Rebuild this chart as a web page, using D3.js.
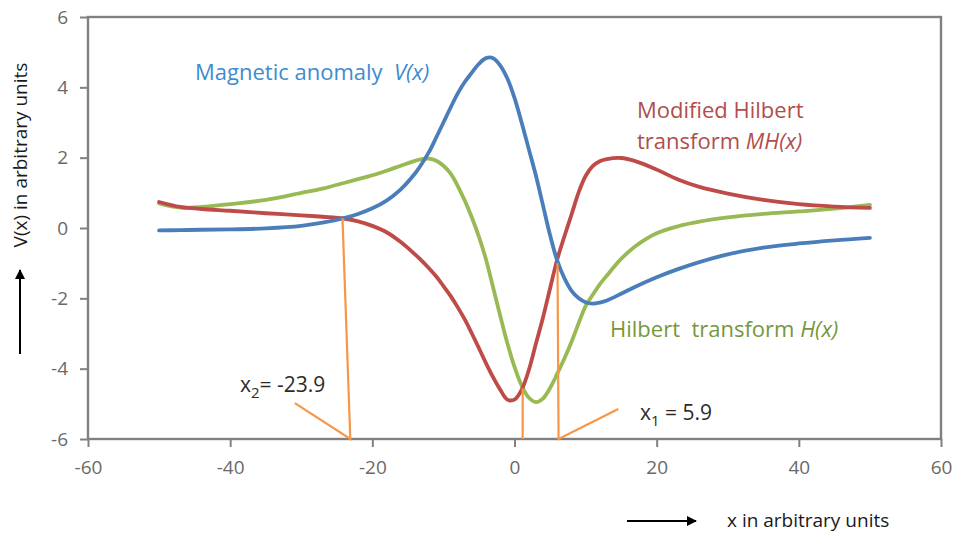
<!DOCTYPE html>
<html>
<head>
<meta charset="utf-8">
<script src="https://cdn.jsdelivr.net/npm/d3@7"></script>
<style>
body { margin: 0; background: #fff; }
text { font-family: "Open Sans", sans-serif; }
</style>
</head>
<body>
<script>
// sample positions (x in arbitrary units)
var xValues = [-50, -47, -44, -40, -35, -30, -27, -24, -22, -20, -18, -16, -14, -13, -12, -11, -10, -9, -8, -7, -6, -5, -4, -3, -2, -1, 0,
    1, 2, 3, 4, 5, 6, 7, 8, 9, 10, 11, 12, 13, 15, 17, 20, 23, 26, 30, 35, 40, 45, 50];

// magnetic anomaly V(x)
var vValues = [-0.07, -0.06, -0.05, -0.04, -0.01, 0.06, 0.15, 0.28, 0.4, 0.56, 0.78, 1.1, 1.55, 1.84, 2.17, 2.58, 3.0, 3.42, 3.82, 4.15, 4.42, 4.67, 4.83, 4.83, 4.62, 4.25, 3.7,
    3.0, 2.25, 1.5, 0.65, -0.2, -0.92, -1.42, -1.78, -1.99, -2.11, -2.15, -2.12, -2.06, -1.87, -1.67, -1.4, -1.17, -0.97, -0.75, -0.56, -0.44, -0.35, -0.28];

// modified Hilbert transform MH(x)
var mhValues = [0.74, 0.6, 0.54, 0.49, 0.42, 0.36, 0.32, 0.27, 0.19, 0.06, -0.12, -0.4, -0.75, -0.94, -1.15, -1.38, -1.65, -1.93, -2.25, -2.6, -3.0, -3.42, -3.85, -4.25, -4.6, -4.88, -4.88,
    -4.6, -4.05, -3.3, -2.55, -1.72, -0.9, -0.25, 0.37, 1.0, 1.48, 1.76, 1.9, 1.96, 1.99, 1.9, 1.66, 1.38, 1.17, 0.98, 0.8, 0.68, 0.61, 0.57];

// Hilbert transform H(x)
var hValues = [0.7, 0.58, 0.6, 0.68, 0.8, 1.0, 1.12, 1.28, 1.39, 1.5, 1.63, 1.77, 1.91, 1.96, 1.97, 1.91, 1.77, 1.55, 1.2, 0.78, 0.3, -0.25, -0.9, -1.7, -2.5, -3.28, -3.95,
    -4.48, -4.82, -4.95, -4.85, -4.55, -4.15, -3.72, -3.25, -2.72, -2.22, -1.9, -1.6, -1.35, -0.88, -0.52, -0.15, 0.05, 0.18, 0.3, 0.4, 0.47, 0.55, 0.66];

var xTicks = [-60, -40, -20, 0, 20, 40, 60];
var yTicks = [-6, -4, -2, 0, 2, 4, 6];

// orange construction lines (data coordinates)
var x2Line = [[-24.2, 0.28], [-23.1, -6], [-30.9, -4.98]];
var midLine = [[1.15, -4.56], [1.15, -6]];
var x1Line = [[6.05, -1.0], [6.2, -6], [14.6, -5.15]];

var width = 956, height = 535;
var margin = {left: 88, top: 17, right: 15, bottom: 96};

var svg = d3.select("body").append("svg")
    .attr("width", width)
    .attr("height", height);

var x = d3.scaleLinear().domain([-60, 60]).range([margin.left, width - margin.right]);
var y = d3.scaleLinear().domain([-6, 6]).range([height - margin.bottom, margin.top]);

var axisColor = "#808080";

// plot frame
svg.append("rect")
    .attr("x", x(-60))
    .attr("y", y(6))
    .attr("width", x(60) - x(-60))
    .attr("height", y(-6) - y(6))
    .attr("fill", "none")
    .attr("stroke", axisColor)
    .attr("stroke-width", 2.4);

var xAxis = svg.append("g")
    .attr("transform", "translate(0," + y(-6) + ")")
    .call(d3.axisBottom(x).tickValues(xTicks).tickSize(8).tickPadding(14).tickFormat(function (d) { return String(d); }));

var yAxis = svg.append("g")
    .attr("transform", "translate(" + x(-60) + ",0)")
    .call(d3.axisLeft(y).tickValues(yTicks).tickSize(8).tickPadding(12).tickFormat(function (d) { return String(d); }));

[xAxis, yAxis].forEach(function (ax) {
    ax.select(".domain").remove();
    ax.selectAll(".tick line").attr("stroke", axisColor).attr("stroke-width", 2);
    ax.selectAll(".tick text")
        .attr("fill", "#6a6a6a")
        .style("font-size", "19px")
        .style("font-family", "'Open Sans', sans-serif");
});

// curves
var line = d3.line()
    .x(function (d) { return x(d[0]); })
    .y(function (d) { return y(d[1]); })
    .curve(d3.curveCatmullRom.alpha(0.5));

var series = [
    {values: hValues, color: "#98B954"},
    {values: mhValues, color: "#BE4B48"},
    {values: vValues, color: "#4A7EBB"}
];

series.forEach(function (s) {
    svg.append("path")
        .attr("d", line(xValues.map(function (xv, i) { return [xv, s.values[i]]; })))
        .attr("fill", "none")
        .attr("stroke", s.color)
        .attr("stroke-width", 3.8)
        .attr("stroke-linecap", "round")
        .attr("stroke-linejoin", "round");
});

// orange guides
var guide = d3.line()
    .x(function (d) { return x(d[0]); })
    .y(function (d) { return y(d[1]); });

[x2Line, midLine, x1Line].forEach(function (pts) {
    svg.append("path")
        .attr("d", guide(pts))
        .attr("fill", "none")
        .attr("stroke", "#F79646")
        .attr("stroke-width", 2.2);
});

// curve labels
function label(px, py, parts, color) {
    var t = svg.append("text")
        .attr("x", px)
        .attr("y", py)
        .attr("fill", color)
        .style("font-size", "22px")
        .style("white-space", "pre");
    parts.forEach(function (p) {
        t.append("tspan")
            .style("font-style", p.italic ? "italic" : "normal")
            .text(p.text);
    });
    return t;
}

label(195, 80, [{text: "Magnetic anomaly  "}, {text: "V(x)", italic: true}], "#3E8BD0");
label(637, 118, [{text: "Modified Hilbert"}], "#B14E4C");
label(637, 149, [{text: "transform "}, {text: "MH(x)", italic: true}], "#B14E4C");
label(610, 337, [{text: "Hilbert  transform "}, {text: "H(x)", italic: true}], "#77973C");

// x1, x2 annotations
function subLabel(px, py, sub, rest) {
    var t = svg.append("text")
        .attr("x", px)
        .attr("y", py)
        .attr("fill", "#2b2b2b")
        .style("font-size", "21px")
        .style("white-space", "pre");
    t.append("tspan").text("x");
    t.append("tspan").attr("dy", 6).style("font-size", "15px").text(sub);
    t.append("tspan").attr("dy", -6).text(rest);
}
subLabel(240, 392, "2", "= -23.9");
subLabel(640, 420, "1", " = 5.9");

// axis titles with arrows
svg.append("defs").append("marker")
    .attr("id", "head")
    .attr("viewBox", "0 0 10 10")
    .attr("refX", 9)
    .attr("refY", 5)
    .attr("markerWidth", 6.5)
    .attr("markerHeight", 5)
    .attr("orient", "auto")
    .append("path")
    .attr("d", "M0,0L10,5L0,10Z")
    .attr("fill", "#000");

svg.append("line")
    .attr("x1", 20).attr("y1", 354)
    .attr("x2", 20).attr("y2", 270)
    .attr("stroke", "#000")
    .attr("stroke-width", 2)
    .attr("marker-end", "url(#head)");

svg.append("line")
    .attr("x1", 627).attr("y1", 521)
    .attr("x2", 696).attr("y2", 521)
    .attr("stroke", "#000")
    .attr("stroke-width", 2)
    .attr("marker-end", "url(#head)");

svg.append("text")
    .attr("transform", "translate(27,155) rotate(-90)")
    .attr("text-anchor", "middle")
    .attr("fill", "#1a1a1a")
    .style("font-size", "19px")
    .text("V(x) in arbitrary units");

svg.append("text")
    .attr("x", 727)
    .attr("y", 527)
    .attr("fill", "#1a1a1a")
    .style("font-size", "19px")
    .text("x in arbitrary units");
</script>
</body>
</html>
